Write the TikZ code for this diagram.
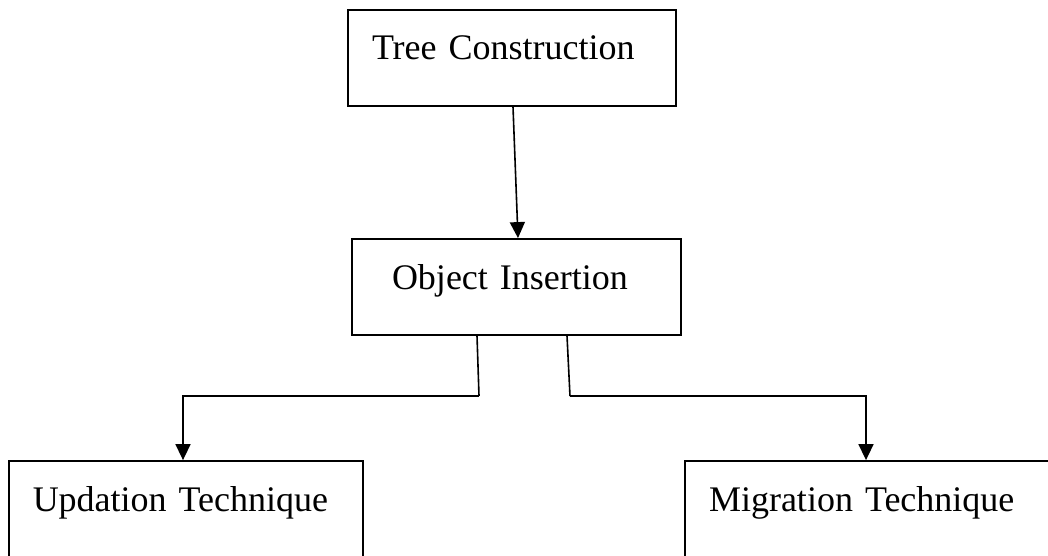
\documentclass[tikz,border=0pt]{standalone}
\usepackage{fontspec}
\setmainfont{Liberation Serif}
\usetikzlibrary{shapes,arrows.meta,positioning}
\tikzstyle{stage} = [draw,line width=1.8pt,rectangle,minimum height=96pt,inner xsep=24pt,align=left,text height=28pt,text depth=24pt,font=\fontsize{36}{40}\selectfont]
\tikzstyle{link} = [-,line width=1.6pt]
\tikzstyle{flow} = [-{Triangle[width=15pt,length=16pt]},line width=1.6pt]
\def \jy {396}

\begin{document}
\begin{tikzpicture}[x=1pt,y=-1pt]
      \useasboundingbox (0,0) rectangle (1048,556);
      \node[stage,text width=280pt] (tree) at (512,58) {Tree Construction};
      \node[stage,text width=249pt,inner xsep=40pt] (insert) at (516.5,287) {Object Insertion};
      \node[stage,text width=306pt] (upd) at (185.75,509) {Updation Technique};
      \node[stage,text width=334pt] (mig) at (876,509) {Migration Technique};
      \coordinate (jl) at (479,\jy);
      \coordinate (jr) at (570,\jy);
      \draw[flow] ([xshift=1pt]tree.south) -- ([xshift=1.5pt]insert.north);
      \draw[link] ([xshift=-39.5pt]insert.south) -- (jl);
      \draw[flow] (jl) -| ([xshift=-2.75pt]upd.north);
      \draw[link] ([xshift=50.5pt]insert.south) -- (jr);
      \draw[flow] (jr) -| ([xshift=-10pt]mig.north);
    \end{tikzpicture}
\end{document}
